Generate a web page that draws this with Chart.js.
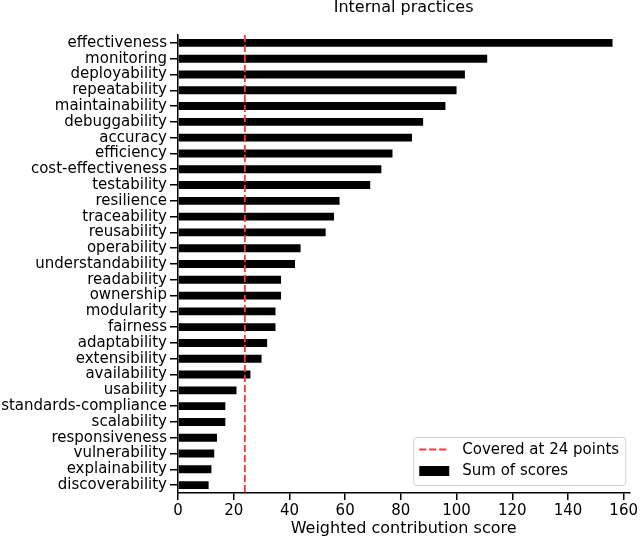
<!DOCTYPE html>
<html>
<head>
<meta charset="utf-8">
<script src="https://cdn.jsdelivr.net/npm/chart.js@4.4.0/dist/chart.umd.min.js"></script>
<style>
  html, body { margin: 0; padding: 0; background: #fff; }
  #wrap { width: 640px; height: 538px; }
</style>
</head>
<body>
<div id="wrap"><canvas id="chart"></canvas></div>
<script>
// values
const categories = [
  "effectiveness", "monitoring", "deployability", "repeatability", "maintainability",
  "debuggability", "accuracy", "efficiency", "cost-effectiveness", "testability",
  "resilience", "traceability", "reusability", "operability", "understandability",
  "readability", "ownership", "modularity", "fairness", "adaptability",
  "extensibility", "availability", "usability", "standards-compliance", "scalability",
  "responsiveness", "vulnerability", "explainability", "discoverability"
];
const scores = [
  156, 111, 103, 100, 96,
  88, 84, 77, 73, 69,
  58, 56, 53, 44, 42,
  37, 37, 35, 35, 32,
  30, 26, 21, 17, 17,
  14, 13, 12, 11
];
const coveredAt = 24;
const titleText = "Internal practices";
const axisTitle = "Weighted contribution score";
const barLabel = "Sum of scores";
const lineLabel = "Covered at 24 points";

Chart.defaults.font.family = "'DejaVu Sans', sans-serif";
Chart.defaults.color = "#000";

// center the title over the plot area instead of the whole canvas
const titleOverPlot = {
  id: "titleOverPlot",
  afterLayout(chart) {
    if (chart.titleBlock) {
      chart.titleBlock.left = chart.chartArea.left;
      chart.titleBlock.right = chart.chartArea.right;
    }
  }
};

// vertical dashed line at the coverage threshold
const coveredLine = {
  id: "coveredLine",
  afterDatasetsDraw(chart) {
    const ctx = chart.ctx;
    const area = chart.chartArea;
    const x = chart.scales.x.getPixelForValue(coveredAt);
    ctx.save();
    ctx.strokeStyle = "#ff3333";
    ctx.lineWidth = 1.8;
    ctx.setLineDash([7, 3]);
    ctx.beginPath();
    ctx.moveTo(x, area.top);
    ctx.lineTo(x, area.bottom);
    ctx.stroke();
    ctx.restore();
  }
};

// legend box in the lower right of the plot
const legendBox = {
  id: "legendBox",
  afterDraw(chart) {
    const ctx = chart.ctx;
    const area = chart.chartArea;
    const w = 212, h = 48;
    const x0 = area.right - 216;
    const y0 = area.bottom - 56;
    ctx.save();
    ctx.fillStyle = "rgba(255,255,255,0.85)";
    ctx.strokeStyle = "#d0d0d0";
    ctx.lineWidth = 1;
    ctx.beginPath();
    ctx.roundRect(x0 + 0.5, y0 + 0.5, w, h, 3);
    ctx.fill();
    ctx.stroke();

    ctx.strokeStyle = "#ff3333";
    ctx.lineWidth = 1.8;
    ctx.setLineDash([7, 3]);
    ctx.beginPath();
    ctx.moveTo(x0 + 6, y0 + 12.5);
    ctx.lineTo(x0 + 36, y0 + 12.5);
    ctx.stroke();
    ctx.setLineDash([]);

    ctx.fillStyle = "#000";
    ctx.fillRect(x0 + 6, y0 + 29, 30, 10);

    ctx.font = "15px 'DejaVu Sans', sans-serif";
    ctx.textBaseline = "middle";
    ctx.textAlign = "left";
    ctx.fillText(lineLabel, x0 + 49, y0 + 13);
    ctx.fillText(chart.data.datasets[0].label, x0 + 49, y0 + 34);
    ctx.restore();
  }
};

const data = {
  labels: categories,
  datasets: [{
    label: barLabel,
    data: scores,
    backgroundColor: "#000",
    barPercentage: 0.5,
    categoryPercentage: 1.0,
  }],
};

const options = {
  indexAxis: "y",
  responsive: true,
  maintainAspectRatio: false,
  animation: { duration: 0 },
  layout: { padding: 0 },

  plugins: {
    legend: { display: false },
    tooltip: { enabled: false },
    title: {
      display: true,
      text: titleText,
      color: "#000",
      font: { size: 16, weight: "normal", lineHeight: 1.0 },
      padding: { top: 0, bottom: 19 },
    },
  },

  scales: {
    y: {
      grid: {
        drawOnChartArea: false,
        offset: false,
        tickLength: 8,
        color: "#000",
        lineWidth: 1.5,
      },
      border: { color: "#000", width: 1.5 },
      ticks: {
        autoSkip: false,
        padding: 3,
        font: { size: 15, lineHeight: 1.0 },
      },
      afterFit(scale) {
        scale.width = 178;
      },
    },
    x: {
      type: "linear",
      min: 0,
      max: 162,
      grid: {
        drawOnChartArea: false,
        tickLength: 7,
        color: "#000",
        lineWidth: 1.5,
      },
      border: { color: "#000", width: 1.5 },
      ticks: {
        stepSize: 20,
        includeBounds: false,
        padding: 2,
        maxRotation: 0,
        font: { size: 15 },
      },
      title: {
        display: true,
        text: axisTitle,
        font: { size: 16 },
        padding: { top: 2, bottom: 0 },
      },
      afterFit(scale) {
        scale.height = 45;
      },
    },
  },
};

const chart = new Chart(document.getElementById("chart").getContext("2d"), {
  type: "bar",
  data: data,
  options: options,
  plugins: [titleOverPlot, coveredLine, legendBox],
});
</script>
</body>
</html>
